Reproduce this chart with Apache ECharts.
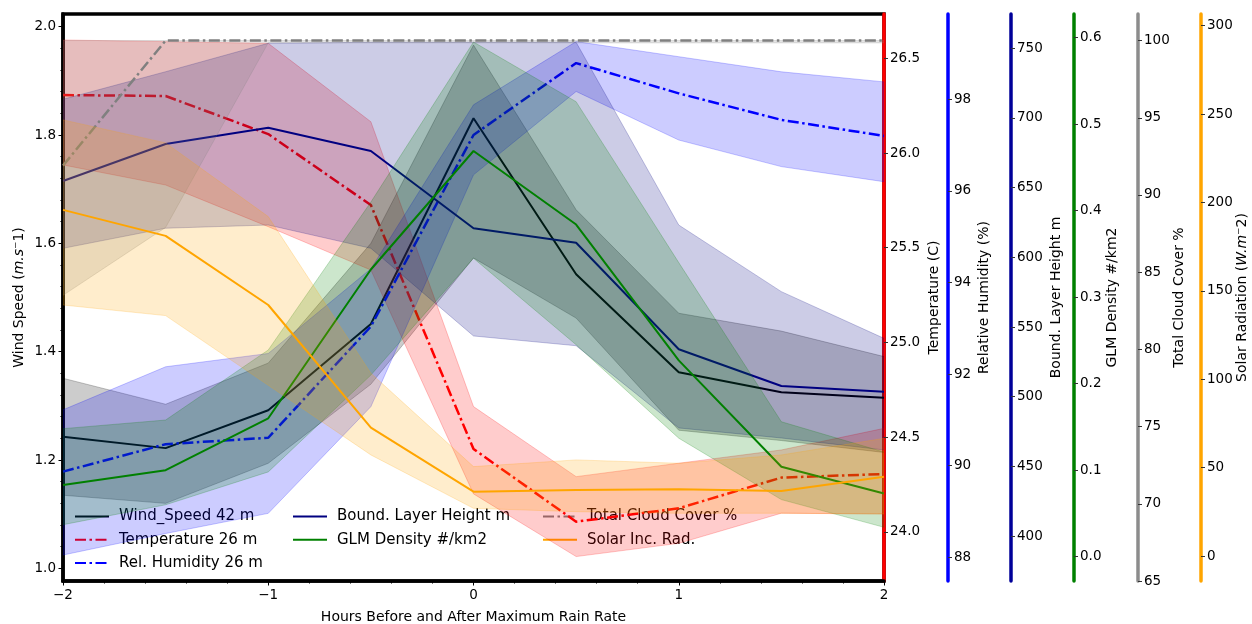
<!DOCTYPE html>
<html lang="en">
<head>
<meta charset="UTF-8">
<title>Composite around maximum rain rate</title>
<script src="https://cdn.jsdelivr.net/npm/echarts@6/dist/echarts.min.js"></script>
<style>body{margin:0;background:#fff;}</style>
</head>
<body>
<div id="main" style="width:1252px;height:624px;"></div>
<script type="text/javascript">
var FONT = 'DejaVu Sans';

// hours relative to the maximum rain rate
var hours = [-2, -1.5, -1, -0.5, 0, 0.5, 1, 1.5, 2];

// wind speed (m/s)
var windMean = [1.243, 1.222, 1.292, 1.451, 1.831, 1.543, 1.362, 1.325, 1.315];
var windLow  = [1.135, 1.120, 1.194, 1.340, 1.573, 1.462, 1.255, 1.236, 1.214];
var windHigh = [1.351, 1.303, 1.379, 1.600, 1.966, 1.662, 1.471, 1.438, 1.391];

// temperature (C)
var tempMean = [26.306, 26.301, 26.100, 25.725, 24.437, 24.053, 24.124, 24.286, 24.305];
var tempLow  = [25.937, 25.831, 25.611, 25.382, 24.200, 23.869, 23.939, 24.098, 24.094];
var tempHigh = [26.597, 26.588, 26.579, 26.165, 24.661, 24.291, 24.362, 24.432, 24.546];

// relative humidity (%)
var rhMean = [89.87, 90.47, 90.61, 93.04, 97.22, 98.79, 98.13, 97.55, 97.20];
var rhLow  = [88.05, 88.52, 88.96, 91.29, 96.35, 98.17, 97.11, 96.53, 96.20];
var rhHigh = [91.22, 92.16, 92.45, 94.30, 97.88, 99.26, 98.93, 98.60, 98.38];

// boundary layer height (m)
var blhMean = [654.8, 681.3, 693.0, 676.3, 620.9, 610.5, 534.1, 507.7, 503.6];
var blhLow  = [606.5, 620.9, 623.2, 606.5, 543.6, 536.6, 477.6, 470.4, 461.8];
var blhHigh = [713.4, 733.2, 753.6, 754.3, 754.3, 754.3, 623.2, 575.4, 541.9];

// GLM flash density (#/km2)
var glmMean = [0.083, 0.100, 0.160, 0.332, 0.469, 0.384, 0.227, 0.104, 0.073];
var glmLow  = [0.037, 0.060, 0.098, 0.210, 0.345, 0.245, 0.137, 0.066, 0.034];
var glmHigh = [0.148, 0.158, 0.239, 0.410, 0.595, 0.526, 0.340, 0.156, 0.121];

// total cloud cover (%)
var tccMean = [91.9, 100, 100, 100, 100, 100, 100, 100, 100];
var tccLow  = [83.5, 87.9, 99.85, 99.85, 99.85, 99.85, 99.85, 99.85, 99.85];
var tccHigh = [100, 100, 100, 100, 100, 100, 100, 100, 100];

// solar incoming radiation (W/m2)
var solarMean = [195.8, 181.1, 142.0, 72.6, 36.4, 37.4, 37.8, 36.8, 44.9];
var solarLow  = [142.0, 136.0, 96.6, 57.2, 27.0, 25.1, 24.2, 24.2, 23.8];
var solarHigh = [246.7, 233.7, 192.0, 103.4, 50.6, 54.4, 52.5, 57.2, 66.6];

// tick labels of every axis
var windTicks  = [1.0, 1.2, 1.4, 1.6, 1.8, 2.0];
var windMinor  = [1.04, 1.08, 1.12, 1.16, 1.24, 1.28, 1.32, 1.36, 1.44, 1.48, 1.52, 1.56,
                  1.64, 1.68, 1.72, 1.76, 1.84, 1.88, 1.92, 1.96];
var tempTicks  = [24.0, 24.5, 25.0, 25.5, 26.0, 26.5];
var rhTicks    = [88, 90, 92, 94, 96, 98];
var blhTicks   = [400, 450, 500, 550, 600, 650, 700, 750];
var glmTicks   = [0.0, 0.1, 0.2, 0.3, 0.4, 0.5, 0.6];
var tccTicks   = [65, 70, 75, 80, 85, 90, 95, 100];
var solarTicks = [0, 50, 100, 150, 200, 250, 300];

function pairs(arr) {
    return hours.map(function (h, i) { return [h, arr[i]]; });
}

function rgba(hex, a) {
    var n = parseInt(hex.slice(1), 16);
    return 'rgba(' + (n >> 16) + ',' + ((n >> 8) & 255) + ',' + (n & 255) + ',' + a + ')';
}

// mean line
function meanLine(name, axis, arr, color, dashed, width, z) {
    return {
        name: name, type: 'line', yAxisIndex: axis, data: pairs(arr),
        symbol: 'none', z: z,
        lineStyle: {color: color, width: width, type: dashed ? [11, 3.5, 2.5, 3.5] : 'solid'},
        itemStyle: {color: color}
    };
}

// shaded spread between low and high, drawn as one polygon on the series axes
function spread(axis, low, high, color, z) {
    return {
        type: 'custom', yAxisIndex: axis, silent: true, z: z, clip: true,
        data: [[hours[0], low[0], high[0]]],
        renderItem: function (params, api) {
            var pts = [];
            for (var i = 0; i < hours.length; i++) pts.push(api.coord([hours[i], high[i]]));
            for (var j = hours.length - 1; j >= 0; j--) pts.push(api.coord([hours[j], low[j]]));
            return {
                type: 'polygon', shape: {points: pts},
                style: {fill: rgba(color, 0.2), stroke: rgba(color, 0.22), lineWidth: 1}
            };
        }
    };
}

var italic = {i: {fontStyle: 'italic', fontSize: 14, fontFamily: FONT, color: '#000'}};

function rightAxis(name, min, max, ticks, digits, color, offset, gap) {
    return {
        type: 'value', position: 'right', offset: offset, min: min, max: max,
        name: name, nameLocation: 'middle', nameRotate: 90, nameGap: gap, nameMoveOverlap: false,
        nameTextStyle: {color: '#000', fontSize: 14, fontFamily: FONT, rich: italic},
        axisLine: {show: true, onZero: false, lineStyle: {color: color, width: 3.5}},
        axisTick: {show: true, length: 4, customValues: ticks, lineStyle: {color: '#333'}},
        axisLabel: {
            customValues: ticks, color: '#000', fontSize: 13.5, fontFamily: FONT, margin: 6,
            formatter: function (v) { return v.toFixed(digits); }
        },
        splitLine: {show: false}
    };
}

var hiddenMark = {color: 'rgba(0,0,0,0)', borderColor: 'rgba(0,0,0,0)', borderWidth: 0};
var legendBase = {
    orient: 'vertical', top: 509, padding: 0, itemWidth: 34, itemHeight: 14, itemGap: 8.2,
    selectedMode: false, itemStyle: hiddenMark,
    textStyle: {color: '#000', fontSize: 15, fontFamily: FONT, padding: [0, 0, 0, 5]}
};

var series = [
    spread(0, windLow, windHigh, '#000000', 2),
    meanLine('Wind_Speed 42 m', 0, windMean, '#000000', false, 2, 3),
    spread(1, tempLow, tempHigh, '#ff0000', 4),
    meanLine('Temperature 26 m', 1, tempMean, '#ff0000', true, 2.5, 5),
    spread(2, rhLow, rhHigh, '#0000ff', 6),
    meanLine('Rel. Humidity 26 m', 2, rhMean, '#0000ff', true, 2.5, 7),
    spread(3, blhLow, blhHigh, '#000080', 8),
    meanLine('Bound. Layer Height m', 3, blhMean, '#000080', false, 2, 9),
    spread(4, glmLow, glmHigh, '#008000', 10),
    meanLine('GLM Density #/km2', 4, glmMean, '#008000', false, 2, 11),
    spread(5, tccLow, tccHigh, '#808080', 12),
    meanLine('Total Cloud Cover %', 5, tccMean, '#808080', true, 2.5, 13),
    spread(6, solarLow, solarHigh, '#ffa500', 14),
    meanLine('Solar Inc. Rad.', 6, solarMean, '#ffa500', false, 2, 15)
];

var option = {
    animation: false,
    backgroundColor: '#fff',
    textStyle: {fontFamily: FONT},
    grid: {left: 63, right: 368, top: 14, bottom: 43, outerBoundsMode: 'none',
           show: true, borderColor: '#000', borderWidth: 3.5},
    legend: [
        Object.assign({}, legendBase, {left: 74, data: ['Wind_Speed 42 m', 'Temperature 26 m', 'Rel. Humidity 26 m']}),
        Object.assign({}, legendBase, {left: 292, data: ['Bound. Layer Height m', 'GLM Density #/km2']}),
        Object.assign({}, legendBase, {left: 542, data: ['Total Cloud Cover %', 'Solar Inc. Rad.']})
    ],
    xAxis: {
        type: 'value', min: -2, max: 2, interval: 1,
        name: 'Hours Before and After Maximum Rain Rate', nameLocation: 'middle', nameGap: 29,
        nameMoveOverlap: false,
        nameTextStyle: {color: '#000', fontSize: 14, fontFamily: FONT},
        axisLine: {show: true, onZero: false, lineStyle: {color: '#000', width: 3.5}},
        axisTick: {show: true, length: 4.5, lineStyle: {color: '#000'}},
        minorTick: {show: true, splitNumber: 5, length: 2.5, lineStyle: {color: '#000'}},
        axisLabel: {
            color: '#000', fontSize: 13.5, fontFamily: FONT, margin: 7,
            formatter: function (v) { return String(v).replace('-', '\u2212'); }
        },
        splitLine: {show: false}
    },
    yAxis: [
        {
            type: 'value', position: 'left', min: 0.9767, max: 2.0234,
            name: 'Wind Speed ({i|m.s}\u207B1)', nameLocation: 'middle', nameRotate: 90, nameGap: 37,
            nameMoveOverlap: false,
            nameTextStyle: {color: '#000', fontSize: 14, fontFamily: FONT, rich: italic},
            axisLine: {show: true, onZero: false, lineStyle: {color: '#000', width: 3.5}},
            axisTick: {show: true, length: 4.5, customValues: windTicks, lineStyle: {color: '#000'}},
            axisLabel: {
                customValues: windTicks, color: '#000', fontSize: 13.5, fontFamily: FONT, margin: 7,
                formatter: function (v) { return v.toFixed(1); }
            },
            splitLine: {show: false}
        },
        rightAxis('Temperature (C)', 23.740, 26.734, tempTicks, 1, '#ff0000', 0, 43),
        rightAxis('Relative Humidity (%)', 87.483, 99.862, rhTicks, 0, '#0000ff', 64, 29),
        rightAxis('Bound. Layer Height m', 367.8, 774.6, blhTicks, 0, '#000099', 127, 38),
        rightAxis('GLM Density #/km2', -0.0281, 0.6274, glmTicks, 1, '#008000', 190, 31),
        rightAxis('Total Cloud Cover %', 65.0, 101.72, tccTicks, 0, '#8c8c8c', 254, 34),
        rightAxis('Solar Radiation ({i|W.m}\u207B2)', -14.1, 306.6, solarTicks, 0, '#ffa500', 317, 34),
        {
            // minor ticks of the wind axis
            type: 'value', position: 'left', offset: 0, min: 0.9767, max: 2.0234,
            axisLine: {show: false, onZero: false},
            axisTick: {show: true, length: 2.5, customValues: windMinor, lineStyle: {color: '#000'}},
            axisLabel: {show: false},
            splitLine: {show: false}
        }
    ],
    series: series
};

var myChart = echarts.init(document.getElementById('main'));
myChart.setOption(option);
</script>
</body>
</html>
